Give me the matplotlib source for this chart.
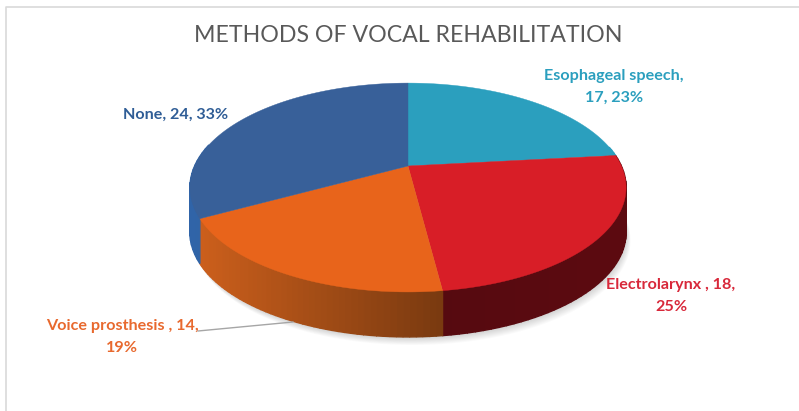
import numpy as np
import matplotlib
matplotlib.use('Agg')
import matplotlib.pyplot as plt
from matplotlib.colors import to_rgb

categories = ['Esophageal speech', 'Electrolarynx ', 'Voice prosthesis ', 'None']
values = [17, 18, 14, 24]
top_colors = ['#2b9fbe', '#d81e27', '#e8641b', '#386099']
side_left = ['#2b9fbe', '#560a10', '#cc5f1c', '#3064a8']
side_right = ['#2b9fbe', '#5c0a10', '#7a3a10', '#2a5a98']
text_colors = ['#2b9fbe', '#d8283a', '#e8692e', '#2f5d96']
label_xy = [(614, 87), (671, 296), (122, 337), (176, 115)]

# projected circle, fitted on the slice corners
cx, cy = 408, 166
a, b, k = 213.4, 100, 0.206
depth = 45


def project(t):
    u, v = np.sin(t), np.cos(t)
    d = 1 + k * v
    return cx + a * u / d, cy - b * v / d


fig, ax = plt.subplots(figsize=(7.99, 4.11), dpi=100)
ax.set_position([0, 0, 1, 1])
ax.set_xlim(0, 799)
ax.set_ylim(411, 0)
ax.axis('off')

# chart frame
ax.plot([799, 6, 6], [7, 7, 411], color='#d9d9d9', lw=1.2, zorder=1)

# soft shadow under the pie
tt = np.linspace(0, 2 * np.pi, 300)
sx, sy = project(tt)
for off in range(1, 10):
    ax.fill(sx + off * 0.5, sy + depth + off * 0.9, color='black', alpha=0.018, lw=0, zorder=2)

total = sum(values)
edges = np.cumsum([0] + values) / total * 2 * np.pi

# side wall
for i in range(len(values)):
    t = np.linspace(edges[i], edges[i + 1], 50)
    x, y = project(t)
    c0, c1 = np.array(to_rgb(side_left[i])), np.array(to_rgb(side_right[i]))
    for j in range(len(t) - 1):
        if np.cos((t[j] + t[j + 1]) / 2) > k:
            continue
        f = (x[j] - x.min()) / (x.max() - x.min())
        col = c0 + (c1 - c0) * f
        ax.fill([x[j], x[j + 1], x[j + 1], x[j]],
                [y[j], y[j + 1], y[j + 1] + depth, y[j] + depth],
                color=col, lw=1, zorder=3)

# top surface
for i in range(len(values)):
    t = np.linspace(edges[i], edges[i + 1], 120)
    x, y = project(t)
    ax.fill(np.r_[cx, x], np.r_[cy, y], color=top_colors[i], lw=0.3, zorder=4)

# leader line for the voice prosthesis label
ax.plot([198, 293], [331, 322], color='#a6a6a6', lw=1, zorder=5)

ax.text(408, 35, 'METHODS OF VOCAL REHABILITATION', ha='center', va='center',
        fontsize=16.7, color='#595959', family='Lato')

for i, name in enumerate(categories):
    pct = round(values[i] / total * 100)
    if i == 0:
        s = f'{name},\n{values[i]}, {pct}%'
    elif i == 3:
        s = f'{name}, {values[i]}, {pct}%'
    else:
        s = f'{name}, {values[i]},\n{pct}%'
    ax.text(label_xy[i][0], label_xy[i][1], s, ha='center', va='center', fontsize=11.6,
            color=text_colors[i], family='Lato', fontweight='bold', linespacing=1.75, zorder=6)

plt.savefig('out.png', dpi=100)
